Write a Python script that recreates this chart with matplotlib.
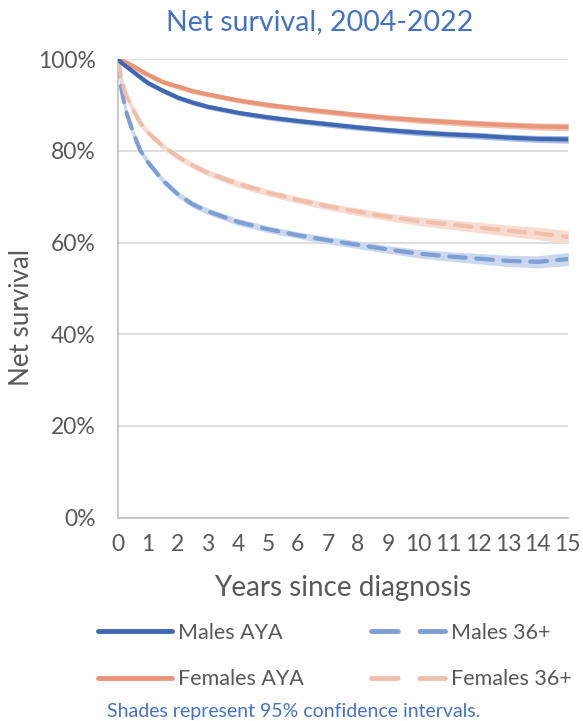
import matplotlib
matplotlib.use('Agg')
import matplotlib.pyplot as plt
from matplotlib.lines import Line2D
import numpy as np

plt.rcParams['font.family'] = ['Lato', 'DejaVu Sans']

# years since diagnosis and net survival (%)
years = [0, 0.1, 0.25, 0.5, 0.75, 1, 1.5, 2, 2.5, 3, 4, 5, 6, 7, 8, 9, 10, 11, 12, 13, 14, 15]
males_aya = [100, 99.3, 98.5, 97.3, 96.0, 94.8, 93.1, 91.6, 90.5, 89.6, 88.3, 87.3, 86.5, 85.8,
             85.1, 84.5, 84.0, 83.6, 83.3, 82.9, 82.6, 82.5]
females_aya = [100, 99.8, 99.3, 98.5, 97.5, 96.6, 95.0, 94.0, 93.0, 92.3, 91.0, 90.0, 89.2, 88.5,
               87.8, 87.2, 86.7, 86.3, 85.9, 85.6, 85.3, 85.2]
males_36 = [100, 94.0, 89.0, 84.0, 80.0, 77.5, 73.5, 70.5, 68.3, 66.8, 64.5, 62.9, 61.6, 60.5,
            59.5, 58.5, 57.6, 57.0, 56.5, 56.0, 55.8, 56.4]
females_36 = [100, 96.0, 92.5, 89.0, 86.0, 84.0, 81.0, 78.7, 76.8, 75.2, 72.8, 70.9, 69.3, 67.9,
              66.7, 65.6, 64.7, 64.0, 63.3, 62.6, 62.0, 61.2]
# half-width of 95% confidence intervals
ci_aya = [0, 0.2, 0.2, 0.3, 0.3, 0.3, 0.3, 0.3, 0.3, 0.3, 0.3, 0.35, 0.35, 0.4, 0.4, 0.4,
          0.45, 0.45, 0.5, 0.5, 0.55, 0.6]
ci_36 = [0, 0.3, 0.4, 0.4, 0.4, 0.4, 0.4, 0.4, 0.45, 0.45, 0.5, 0.5, 0.5, 0.55, 0.6, 0.6,
         0.7, 0.8, 0.9, 1.0, 1.1, 1.2]

labels = ['Males AYA', 'Females AYA', 'Males 36+', 'Females 36+']
line_colors = ['#4068B2', '#E8957A', '#7F9ED3', '#F0BFAC']
band_colors = ['#A9BDE2', '#F3C3B1', '#CCD8EE', '#F8DCD1']
text_grey = '#595959'

fig = plt.figure(figsize=(5.83, 7.21), dpi=100)
ax = fig.add_axes([0.2024, 0.282, 0.7716, 0.636])

x = np.array(years)
series = [(males_aya, ci_aya), (females_aya, ci_aya), (males_36, ci_36), (females_36, ci_36)]
for i, (vals, ci) in enumerate(series):
    v = np.array(vals)
    c = np.array(ci)
    ax.fill_between(x, v - c, v + c, color=band_colors[i], lw=1.5, edgecolor=band_colors[i], zorder=2)
for i, (vals, ci) in enumerate(series):
    if i < 2:
        ax.plot(x, vals, color=line_colors[i], lw=3, solid_capstyle='round', zorder=4 - i)
    else:
        ax.plot(x, vals, color=line_colors[i], lw=3, dashes=(4, 2.5), dash_capstyle='round', zorder=3)

ax.set_xlim(0, 15)
ax.set_ylim(0, 100)
ax.set_xticks(range(16))
ax.set_yticks(range(0, 101, 20))
ax.set_yticklabels([f'{v}%' for v in range(0, 101, 20)])
ax.tick_params(length=0, labelsize=16.5, labelcolor=text_grey)
ax.tick_params(axis='y', pad=16)
ax.tick_params(axis='x', pad=12)
ax.grid(axis='y', color='#D9D9D9', lw=1.2)
ax.set_axisbelow(True)
for s in ['top', 'right']:
    ax.spines[s].set_visible(False)
for s in ['left', 'bottom']:
    ax.spines[s].set_color('#BFBFBF')
    ax.spines[s].set_linewidth(1.2)

fig.text(342.5 / 583, 1 - 588 / 721, 'Years since diagnosis', fontsize=20, color=text_grey,
         ha='center', va='center')
fig.text(22 / 583, 1 - 318 / 721, 'Net survival', rotation=90, fontsize=18.7, color=text_grey,
         ha='center', va='center')
fig.text(319.5 / 583, 1 - 22 / 721, 'Net survival, 2004-2022', fontsize=20.5, color='#4472C4',
         ha='center', va='center')

# legend in two separate columns
h_solid = [Line2D([], [], color=line_colors[0], lw=3.5, solid_capstyle='round'),
           Line2D([], [], color=line_colors[1], lw=3.5, solid_capstyle='round')]
h_dash = [Line2D([], [], color=line_colors[2], lw=3.5, dashes=(5.5, 4.5), dash_capstyle='round'),
          Line2D([], [], color=line_colors[3], lw=3.5, dashes=(5.5, 4.5), dash_capstyle='round')]
leg_kw = dict(loc='center left', frameon=False, fontsize=15.5, borderpad=0, borderaxespad=0,
              handlelength=3.45, handletextpad=0.28, labelspacing=1.22, labelcolor=text_grey)
leg1 = fig.legend(h_solid, labels[:2], bbox_to_anchor=(98 / 583, 1 - 656 / 721), **leg_kw)
leg2 = fig.legend(h_dash, labels[2:], bbox_to_anchor=(371 / 583, 1 - 656 / 721), **leg_kw)

fig.text(107 / 583, 1 - 711 / 721, 'Shades represent 95% confidence intervals.', fontsize=14,
         color='#4472C4', ha='left', va='center')

fig.savefig('out.png', dpi=100)
